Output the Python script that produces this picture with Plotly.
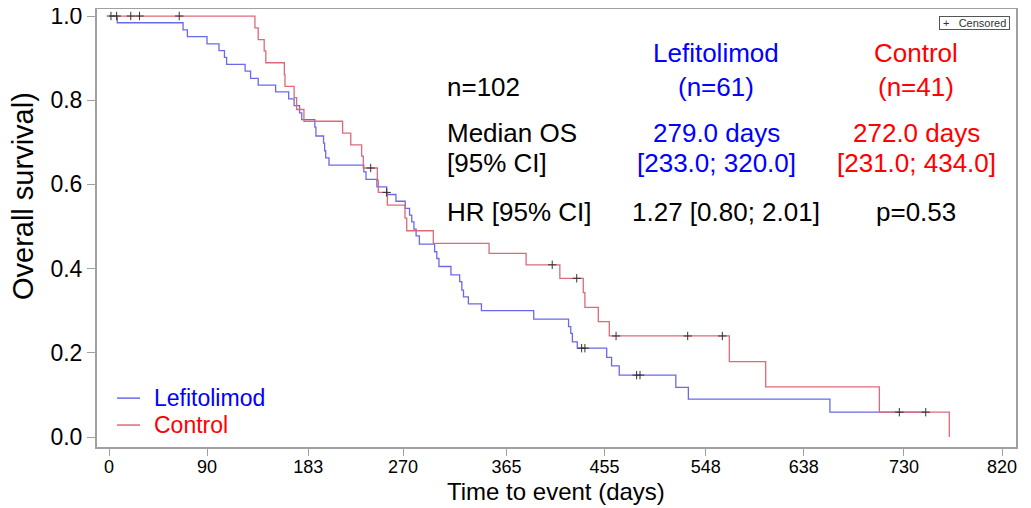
import numpy as np
import plotly.graph_objects as go

# ---- data ----
lef_time = [0, 7.6, 68, 72, 90, 101, 106, 108, 125, 130, 137, 153, 165, 170, 175, 177,
            189, 190, 197, 198, 199, 202, 234, 236, 246, 255, 263.5, 272, 276, 278, 280,
            282, 285, 299, 301, 303, 314, 322, 324, 325.5, 330, 342, 390, 422, 424, 425.5,
            430, 457, 461.5, 468.5, 520.5, 532, 662, 750]
lef_surv = [1.0, 0.984, 0.967, 0.951, 0.934, 0.918, 0.902, 0.885, 0.869, 0.852, 0.836,
            0.820, 0.803, 0.787, 0.770, 0.754, 0.736, 0.715, 0.698, 0.680, 0.663, 0.646,
            0.630, 0.612, 0.594, 0.576, 0.560, 0.543, 0.527, 0.511, 0.494, 0.478, 0.458,
            0.440, 0.424, 0.405, 0.385, 0.369, 0.349, 0.333, 0.316, 0.300, 0.280, 0.262,
            0.246, 0.226, 0.211, 0.189, 0.169, 0.147, 0.118, 0.090, 0.059, 0.059]
lef_censor = [434, 437, 484.5, 487.6, 725.7, 750]

ctl_time = [0, 134, 137, 142.5, 144, 161, 161.6, 170, 172.3, 179, 214.5, 222, 232, 233.5,
            246.4, 247.3, 255.6, 271.8, 273.4, 297.8, 349, 383, 414, 435.5, 437, 449.3,
            459.4, 569.6, 603, 707.4, 771.6]
ctl_surv = [1.0, 0.972, 0.944, 0.917, 0.889, 0.861, 0.833, 0.806, 0.778, 0.750, 0.722,
            0.694, 0.667, 0.639, 0.610, 0.581, 0.551, 0.520, 0.490, 0.460, 0.436, 0.409,
            0.377, 0.343, 0.308, 0.274, 0.240, 0.179, 0.119, 0.059, 0.0]
ctl_censor = [1.8, 7, 20, 28, 64.5, 240.3, 255, 407, 429.5, 465.6, 531.4, 563.2]

x_ticks = [0, 90, 183, 270, 365, 455, 548, 638, 730, 820]
y_ticks = [0.0, 0.2, 0.4, 0.6, 0.8, 1.0]

BLUE = "rgb(105,105,235)"
RED = "rgb(222,105,120)"
FONT = "Liberation Sans, Arial, sans-serif"


def step_at(times, surv, t):
    idx = np.searchsorted(np.array(times), t, side="right") - 1
    return [surv[i] for i in idx]


fig = go.Figure()
fig.add_trace(go.Scatter(x=lef_time, y=lef_surv, mode="lines", line_shape="hv",
                         line=dict(color=BLUE, width=1.3), name="Lefitolimod",
                         showlegend=False))
fig.add_trace(go.Scatter(x=ctl_time, y=ctl_surv, mode="lines", line_shape="hv",
                         line=dict(color=RED, width=1.3), name="Control",
                         showlegend=False))
for times, surv, cens in [(lef_time, lef_surv, lef_censor), (ctl_time, ctl_surv, ctl_censor)]:
    fig.add_trace(go.Scatter(x=cens, y=step_at(times, surv, cens), mode="markers",
                             marker=dict(symbol="cross-thin", size=6,
                                         line=dict(color="#333333", width=1)),
                             showlegend=False, hoverinfo="skip"))

BIG = 26
def ann(text, x, y, color="black", anchor="center", size=BIG, angle=0):
    fig.add_annotation(text=text, x=x, y=y, xref="paper", yref="paper",
                       xanchor=anchor, yanchor="middle", showarrow=False,
                       textangle=angle,
                       font=dict(family=FONT, size=size, color=color))

ann("Lefitolimod", 0.6736, 0.8995, "#0000ff")
ann("(n=61)", 0.6736, 0.8219, "#0000ff")
ann("Control", 0.8912, 0.8995, "#ff0000")
ann("(n=41)", 0.8912, 0.8219, "#ff0000")
ann("n=102", 0.3787, 0.8219, anchor="left")
ann("Median OS", 0.3787, 0.7169, anchor="left")
ann("[95% CI]", 0.3787, 0.6484, anchor="left")
ann("279.0 days", 0.6736, 0.7169, "#0000ff")
ann("[233.0; 320.0]", 0.6736, 0.6484, "#0000ff")
ann("272.0 days", 0.8912, 0.7169, "#ff0000")
ann("[231.0; 434.0]", 0.8912, 0.6484, "#ff0000")
ann("HR [95% CI]", 0.3787, 0.5365, anchor="left")
ann("1.27 [0.80; 2.01]", 0.6844, 0.5365)
ann("p=0.53", 0.8912, 0.5365)

# axis titles
ann("Overall survival)", -0.0805, 0.573, size=29, angle=-90)
ann("Time to event (days)", 0.4995, -0.1027, size=24)

# legend (drawn manually so item spacing matches)
leg_items = [("Lefitolimod", BLUE, "#0000ff", 0.1116), ("Control", RED, "#ff0000", 0.0501)]
for label, lc, tc, yy in leg_items:
    fig.add_shape(type="line", xref="paper", yref="paper", x0=0.0218, x1=0.0468,
                  y0=yy, y1=yy, line=dict(color=lc, width=1.5))
    ann(label, 0.0598, yy, tc, anchor="left", size=23)

fig.add_annotation(text="&nbsp;+&nbsp;&nbsp;&nbsp;Censored&nbsp;", x=0.9935, y=0.985, xref="paper", yref="paper",
                   xanchor="right", yanchor="top", showarrow=False,
                   font=dict(family=FONT, size=11, color="#333333"),
                   bordercolor="#555555", borderwidth=1, borderpad=0, bgcolor="white")

axis_common = dict(showline=True, mirror=True, linecolor="#a0a0a0", linewidth=2,
                   ticks="outside", tickcolor="#a0a0a0", tickwidth=1,
                   showgrid=False, zeroline=False, automargin=False,
                   ticklabeloverflow="allow")
fig.update_xaxes(range=[-11.02, 832.86], tickvals=x_ticks, ticktext=[str(v) for v in x_ticks],
                 tickfont=dict(family=FONT, size=18, color="black"), ticklen=7,
                 ticklabelstandoff=-5, **axis_common)
fig.update_yaxes(range=[-0.02375, 1.0167], tickvals=y_ticks, ticktext=[f"{v:.1f}" for v in y_ticks],
                 tickfont=dict(family=FONT, size=23, color="black"), ticklen=8,
                 **axis_common)
# page body has an 8px margin: figure sized so the page is filled exactly
fig.update_layout(width=1023, height=500, margin=dict(l=89, r=15, t=1, b=61),
                  paper_bgcolor="white", plot_bgcolor="white",
                  font=dict(family=FONT), showlegend=False)
fig.write_html("out.html")
